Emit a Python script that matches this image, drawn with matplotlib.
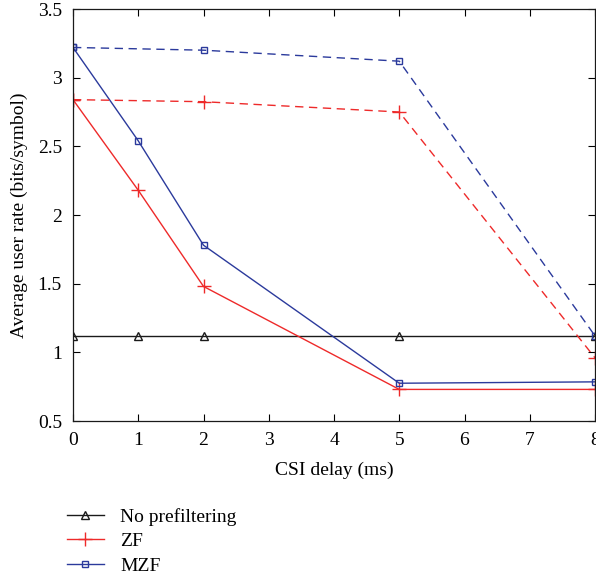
import matplotlib
matplotlib.use("Agg")
import matplotlib.pyplot as plt
from matplotlib.ticker import MultipleLocator

plt.rcParams['font.family'] = ['Liberation Serif', 'DejaVu Serif']

x_all = [0, 1, 2, 5, 8]
x_dash = [0, 2, 5, 8]
no_pref = [1.12, 1.12, 1.12, 1.12, 1.12]
zf = [2.84, 2.18, 1.48, 0.73, 0.73]
mzf = [3.22, 2.54, 1.78, 0.775, 0.785]
zf_dash = [2.84, 2.825, 2.75, 0.96]
mzf_dash = [3.22, 3.20, 3.12, 1.12]

W, H = 596, 579
fig = plt.figure(figsize=(W/100, H/100), dpi=100)
ax = fig.add_axes([73/W, 1-421/H, (595-73)/W, (421-9)/H])

black = '#1a1a1a'
red = '#ee2a2a'
blue = '#2b3a9c'

l1, = ax.plot(x_all, no_pref, color=black, lw=1.0, marker='^', ms=6, mfc='none', mec=black, mew=1.0, label='No prefiltering')
l2, = ax.plot(x_all, zf, color=red, lw=1.0, marker='+', ms=10, mew=1.0, label='ZF')
l3, = ax.plot(x_all, mzf, color=blue, lw=1.0, marker='s', ms=5, mfc='none', mec=blue, mew=1.0, label='MZF')
ax.plot(x_dash, zf_dash, color=red, lw=1.0, ls=(0, (6, 4)), marker='+', ms=10, mew=1.0)
ax.plot(x_dash, mzf_dash, color=blue, lw=1.0, ls=(0, (6, 4)), marker='s', ms=5, mfc='none', mec=blue, mew=1.0)

ax.set_xlim(0, 8)
ax.set_ylim(0.5, 3.5)
ax.xaxis.set_major_locator(MultipleLocator(1))
ax.set_yticks([0.5, 1, 1.5, 2, 2.5, 3, 3.5])
ax.set_yticklabels(['0.5', '1', '1.5', '2', '2.5', '3', '3.5'])
ax.tick_params(direction='in', top=True, right=True, length=5, labelsize=14, width=0.8)
ax.tick_params(axis='x', pad=8)
ax.tick_params(axis='y', pad=8)
for s in ax.spines.values():
    s.set_linewidth(0.9)
    s.set_color(black)

ax.set_xlabel('CSI delay (ms)', fontsize=14, labelpad=9)
ax.set_ylabel('Average user rate (bits/symbol)', fontsize=14, labelpad=7)

fig.legend(handles=[l1, l2, l3], loc='upper left', bbox_to_anchor=(67/W, 1-508/H),
           frameon=False, fontsize=14, handlelength=1.9, handletextpad=0.85,
           labelspacing=0.35, borderaxespad=0, borderpad=0)

fig.savefig('out.png', dpi=100)
